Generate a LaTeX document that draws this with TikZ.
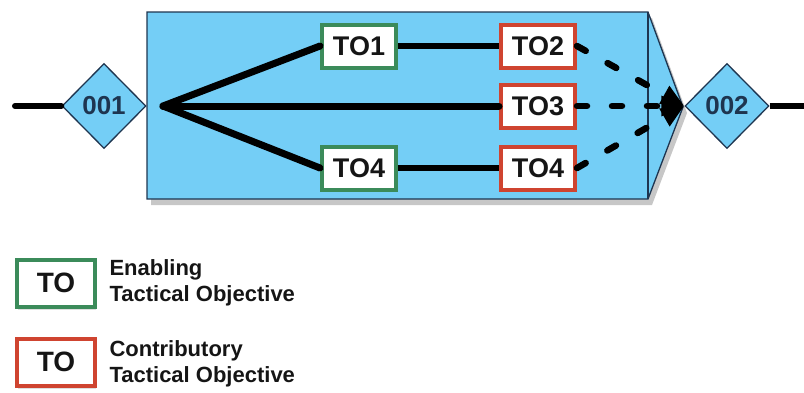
\documentclass[tikz,border=0pt]{standalone}
\usepackage{fontspec}
\setmainfont{Liberation Sans}
\usetikzlibrary{shapes.geometric,arrows.meta,shadows}
\definecolor{skyfill}{HTML}{74CEF6}
\definecolor{navyline}{HTML}{1E3550}
\definecolor{togreen}{HTML}{3B8B5A}
\definecolor{tored}{HTML}{CF4430}
\definecolor{txt}{HTML}{151515}
\tikzset{
  tobox/.style={rectangle, draw=#1, line width=4pt, fill=white, minimum width=74pt, minimum height=43pt, inner sep=0pt, text=txt, font=\bfseries\fontsize{27}{30}\selectfont},
  gate/.style={diamond, draw=navyline, line width=1.3pt, fill=skyfill, minimum width=84pt, minimum height=85pt, inner sep=0pt, text=navyline, font=\bfseries\fontsize{26}{30}\selectfont},
  legbox/.style={rectangle, draw=#1, line width=4pt, fill=white, minimum width=78pt, minimum height=47pt, inner sep=0pt, text=txt, font=\bfseries\fontsize{28}{30}\selectfont, drop shadow={shadow xshift=1pt, shadow yshift=-3pt, opacity=0.25}},
  legtext/.style={anchor=west, align=left, text=txt, font=\bfseries\fontsize{22}{26}\selectfont},
  flow/.style={line width=7pt, line cap=round, draw=black},
  link/.style={line width=6pt, draw=black},
  dashflow/.style={line width=6.5pt, line cap=round, dash pattern=on 10pt off 25pt, -{Triangle[length=23pt,width=19pt]}}
}
\begin{document}
\begin{tikzpicture}[x=1pt,y=-1pt]
\useasboundingbox (0,0) rectangle (804,392);
% main box
\fill[black, opacity=0.22] (151,18) -- (652,18) -- (687,113) -- (652,205) -- (151,205) -- cycle;
\draw[navyline, line width=1.3pt, fill=skyfill] (147,12) -- (648,12) -- (683,107) -- (648,199) -- (147,199) -- cycle;
\draw[navyline, line width=1.3pt] (648,12) -- (648,199);
% gates
\node[gate] (g1) at (104,106) {001};
\node[gate] (g2) at (727,106) {002};
\coordinate (lin) at (15,106);
\coordinate (rout) at (804,106);
\coordinate (fan) at (163,106);
% objectives
\node[tobox=togreen] (to1) at (359,46) {TO1};
\node[tobox=tored] (to2) at (538,46) {TO2};
\node[tobox=tored] (to3) at (538,106) {TO3};
\node[tobox=togreen] (to4g) at (359,168) {TO4};
\node[tobox=tored] (to4r) at (538,168) {TO4};
% connectors
\draw[line width=6pt, line cap=round] (lin) -- (g1.west);
\draw[line width=6pt] (g2.east) -- (rout);
\draw[flow] (fan) -- (to1.west);
\draw[flow] (fan) -- (to3.west);
\draw[flow] (fan) -- (to4g.west);
\draw[link] (to1.east) -- (to2.west);
\draw[link] (to4g.east) -- (to4r.west);
\draw[dashflow] (to2.east) -- (g2.west);
\draw[dashflow] (to3.east) -- (g2.west);
\draw[dashflow] (to4r.east) -- (g2.west);
% legend
\node[legbox=togreen] (lg) at (56,283) {TO};
\node[legbox=tored] (lr) at (56,362) {TO};
\node[legtext] (lgt) at (106,283) {Enabling\\Tactical Objective};
\node[legtext] (lrt) at (106,364) {Contributory\\Tactical Objective};
\end{tikzpicture}
\end{document}
